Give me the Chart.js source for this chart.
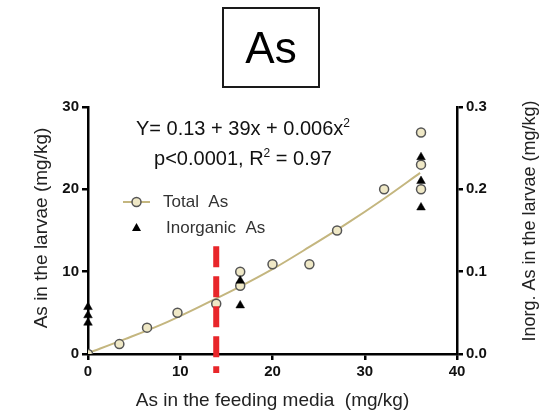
<!DOCTYPE html>
<html><head><meta charset="utf-8">
<script src="https://cdn.jsdelivr.net/npm/chart.js@4.4.1/dist/chart.umd.min.js"></script>
<style>html,body{margin:0;padding:0;background:#fff}canvas{display:block}</style>
</head><body>
<canvas id="c" width="552" height="414"></canvas>
<script>
// Total As (left axis, mg/kg)
const totalX = [0, 3.4, 6.4, 9.7, 13.9, 16.5, 16.5, 20, 24, 27, 32.1, 36.1, 36.1, 36.1];
const totalY = [0, 1.2, 3.2, 5.0, 6.1, 10.0, 8.3, 10.9, 10.9, 15.0, 20.0, 26.9, 23.0, 20.0];
// Inorganic As (right axis, mg/kg)
const inorgX = [0, 0, 0, 16.5, 16.5, 36.1, 36.1, 36.1];
const inorgY = [0.057, 0.047, 0.038, 0.089, 0.059, 0.239, 0.21, 0.178];
// fitted curve
const curveX = [0, 4, 8, 12, 16, 20, 24, 28, 32, 36];
const curveY = [0.1, 1.8, 3.6, 5.7, 7.9, 10.3, 13.0, 15.8, 18.8, 22.0];
// red dashed marker line
const redX = [13.9, 13.9];
const redY = [13.1, -2.3];
// ticks
const xTicks = [0, 10, 20, 30, 40];
const yTicks = [0, 10, 20, 30];
const y2Ticks = [0.0, 0.1, 0.2, 0.3];

const FONT = '"Liberation Sans", Arial, sans-serif';
const KHAKI = '#c4b67f';
const CFILL = '#efe8c6';
const pts = (xs, ys) => xs.map((x, i) => ({x, y: ys[i]}));

const axisCommon = () => ({
  grid: {drawOnChartArea: false, drawTicks: true, tickLength: 6, color: '#000', lineWidth: 2.5},
  border: {color: '#000', width: 2.5},
  ticks: {font: {family: FONT, size: 15, weight: 'bold'}, color: '#111'}
});

function superLine(ctx, parts, cx, y, size) {
  let total = 0;
  const widths = parts.map(([t, sup]) => {
    ctx.font = (sup ? Math.round(size * 0.62) : size) + 'px ' + FONT;
    const w = ctx.measureText(t).width; total += w; return w;
  });
  let x = cx - total / 2;
  parts.forEach(([t, sup], i) => {
    ctx.font = (sup ? Math.round(size * 0.62) : size) + 'px ' + FONT;
    ctx.fillText(t, x, sup ? y - size * 0.42 : y);
    x += widths[i];
  });
}

const decor = {
  id: 'decor',
  afterDraw(chart) {
    const ctx = chart.ctx;
    ctx.save();
    // title box
    ctx.strokeStyle = '#1a1a1a'; ctx.lineWidth = 2;
    ctx.strokeRect(223, 8, 96, 79);
    ctx.fillStyle = '#000'; ctx.textAlign = 'center'; ctx.textBaseline = 'alphabetic';
    ctx.font = '44px ' + FONT;
    ctx.fillText('As', 271, 63);
    // equation
    ctx.textAlign = 'left'; ctx.fillStyle = '#111';
    superLine(ctx, [['Y= 0.13 + 39x + 0.006x', false], ['2', true]], 243, 135, 20);
    superLine(ctx, [['p<0.0001, R', false], ['2', true], [' = 0.97', false]], 243, 165, 20);
    // legend
    ctx.strokeStyle = KHAKI; ctx.lineWidth = 2;
    ctx.beginPath(); ctx.moveTo(123, 202); ctx.lineTo(150, 202); ctx.stroke();
    ctx.fillStyle = CFILL; ctx.strokeStyle = '#555'; ctx.lineWidth = 1.5;
    ctx.beginPath(); ctx.arc(136.5, 202, 4.5, 0, Math.PI * 2); ctx.fill(); ctx.stroke();
    ctx.fillStyle = '#000';
    ctx.beginPath(); ctx.moveTo(136.5, 223); ctx.lineTo(141, 231); ctx.lineTo(132, 231); ctx.closePath(); ctx.fill();
    ctx.fillStyle = '#333'; ctx.font = '17px ' + FONT; ctx.textBaseline = 'middle';
    ctx.fillText('Total  As', 163, 202);
    ctx.fillText('Inorganic  As', 166, 228);
    // axis titles
    ctx.fillStyle = '#222'; ctx.textAlign = 'center'; ctx.textBaseline = 'alphabetic';
    ctx.font = '19px ' + FONT;
    ctx.fillText('As in the feeding media  (mg/kg)', 272.5, 406);
    ctx.save(); ctx.translate(47, 228); ctx.rotate(-Math.PI / 2);
    ctx.fillText('As in the larvae (mg/kg)', 0, 0); ctx.restore();
    ctx.font = '18px ' + FONT;
    ctx.save(); ctx.translate(535, 221); ctx.rotate(-Math.PI / 2);
    ctx.fillText('Inorg. As in the larvae (mg/kg)', 0, 0); ctx.restore();
    ctx.restore();
  }
};

new Chart(document.getElementById('c'), {
  type: 'scatter',
  data: {
    datasets: [
      {label: 'marker', data: pts(redX, redY), showLine: true, borderColor: '#e8262a', borderWidth: 6,
       borderDash: [21, 9], borderCapStyle: 'butt', pointRadius: 0, clip: false, order: 0, yAxisID: 'y'},
      {label: 'Total As', data: pts(totalX, totalY), showLine: false, pointRadius: 4.5,
       pointBackgroundColor: CFILL, pointBorderColor: '#555', pointBorderWidth: 1.5, order: 2, yAxisID: 'y'},
      {label: 'Inorganic As', data: pts(inorgX, inorgY), showLine: false, pointStyle: 'triangle', pointRadius: 5,
       pointBackgroundColor: '#000', pointBorderColor: '#000', pointBorderWidth: 0.5, order: 1, yAxisID: 'y2', clip: false},
      {label: 'fit', data: pts(curveX, curveY), showLine: true, borderColor: KHAKI, borderWidth: 2,
       pointRadius: 0, tension: 0.4, cubicInterpolationMode: 'monotone', order: 3, yAxisID: 'y'}
    ]
  },
  options: {
    responsive: false, animation: false, events: [],
    layout: {padding: {top: 107, left: 0, right: 0, bottom: 0}},
    plugins: {legend: {display: false}, tooltip: {enabled: false}},
    scales: {
      x: Object.assign(axisCommon(), {
        type: 'linear', min: 0, max: 40,
        afterBuildTicks(s) { s.ticks = xTicks.map(v => ({value: v})); },
        afterFit(s) { s.height = 60; }
      }),
      y: Object.assign(axisCommon(), {
        type: 'linear', position: 'left', min: 0, max: 30,
        afterBuildTicks(s) { s.ticks = yTicks.map(v => ({value: v})); },
        afterFit(s) { s.width = 88; }
      }),
      y2: (() => {
        const a = axisCommon();
        a.ticks.callback = (v) => Number(v).toFixed(1);
        return Object.assign(a, {
          type: 'linear', position: 'right', min: 0, max: 0.3,
          afterBuildTicks(s) { s.ticks = y2Ticks.map(v => ({value: v})); },
          afterFit(s) { s.width = 95; }
        });
      })()
    }
  },
  plugins: [decor]
});
</script>
</body></html>
